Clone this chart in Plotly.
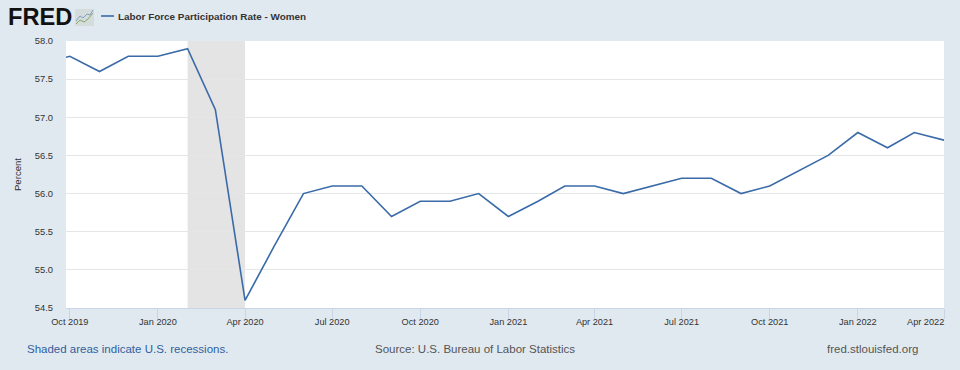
import plotly.graph_objects as go

months = ["2019-09-01","2019-10-01","2019-11-01","2019-12-01","2020-01-01","2020-02-01","2020-03-01","2020-04-01",
          "2020-05-01","2020-06-01","2020-07-01","2020-08-01","2020-09-01","2020-10-01","2020-11-01","2020-12-01",
          "2021-01-01","2021-02-01","2021-03-01","2021-04-01","2021-05-01","2021-06-01","2021-07-01","2021-08-01",
          "2021-09-01","2021-10-01","2021-11-01","2021-12-01","2022-01-01","2022-02-01","2022-03-01","2022-04-01"]
rate = [57.7,57.8,57.6,57.8,57.8,57.9,57.1,54.6,
        55.3,56.0,56.1,56.1,55.7,55.9,55.9,56.0,
        55.7,55.9,56.1,56.1,56.0,56.1,56.2,56.2,
        56.0,56.1,56.3,56.5,56.8,56.6,56.8,56.7]
tick_dates = ["2019-10-01","2020-01-01","2020-04-01","2020-07-01","2020-10-01","2021-01-01",
              "2021-04-01","2021-07-01","2021-10-01","2022-01-01","2022-04-01"]
tick_labels = ["Oct 2019","Jan 2020","Apr 2020","Jul 2020","Oct 2020","Jan 2021",
               "Apr 2021","Jul 2021","Oct 2021","Jan 2022",""]
last_label = "Apr 2022"
recession = ["2020-02-01","2020-04-01"]
y_ticks = [54.5,55.0,55.5,56.0,56.5,57.0,57.5,58.0]
x_range = ["2019-09-27","2022-04-01"]

W, H = 960, 370
L, R, T, B = 66, 944, 41, 308
BG = "#e1e9f0"
LINE = "#3a6ba8"
FONT = "Liberation Sans, Arial, sans-serif"

def px(x): return (x - L) / (R - L)
def py(y): return (B - y) / (B - T)

fig = go.Figure(go.Scatter(x=months, y=rate, mode="lines",
                           line=dict(color=LINE, width=1.6), showlegend=False, cliponaxis=True,
                           name="Labor Force Participation Rate - Women"))

shapes = [
    dict(type="rect", xref="x", yref="paper", x0=recession[0], x1=recession[1], y0=0, y1=1,
         fillcolor="#e4e4e4", line_width=0, layer="below"),
    # legend key
    dict(type="line", xref="paper", yref="paper", x0=px(101), x1=px(114), y0=py(16), y1=py(16),
         line=dict(color=LINE, width=1.6)),
    # logo icon
    dict(type="rect", xref="paper", yref="paper", x0=px(75), x1=px(94), y0=py(26), y1=py(9),
         fillcolor="#d5dcdc", line_width=0),
    dict(type="path", xref="paper", yref="paper",
         path=f"M {px(76)} {py(21)} L {px(80)} {py(16)} L {px(83)} {py(18)} L {px(87)} {py(14)} L {px(90)} {py(15)} L {px(93)} {py(10)}",
         line=dict(color="#7f9fc0", width=1)),
    dict(type="path", xref="paper", yref="paper",
         path=f"M {px(76)} {py(24)} L {px(80)} {py(20)} L {px(84)} {py(22)} L {px(88)} {py(19)} L {px(93)} {py(13)}",
         line=dict(color="#8aa868", width=1)),
]

def note(text, x, y, size, color, anchor="left", **kw):
    return dict(text=text, xref="paper", yref="paper", x=px(x), y=py(y), xanchor=anchor, yanchor="middle",
                xshift=0, showarrow=False, borderpad=0, borderwidth=0,
                font=dict(size=size, color=color, family=FONT), **kw)

annotations = [
    note("<b>FRED</b>", 8, 17, 23.6, "#111111"),
    note("<b>Labor Force Participation Rate - Women</b>", 118, 16, 9.9, "#333333"),
    note("Shaded areas indicate U.S. recessions.", 27, 349, 11.5, "#2f5f9f"),
    note("Source: U.S. Bureau of Labor Statistics", 375, 349, 11.5, "#555555"),
    note("fred.stlouisfed.org", 827, 349, 11.5, "#555555"),
    note(last_label, 943.5, 322, 9.2, "#333333", anchor="right"),
]

fig.update_layout(
    width=W, height=H, autosize=False,
    margin=dict(l=L, r=W - R, t=T, b=H - B, pad=0),
    paper_bgcolor=BG, plot_bgcolor="#ffffff",
    font=dict(family=FONT, size=10, color="#333333"),
    shapes=shapes, annotations=annotations,
    xaxis=dict(type="date", range=x_range, tickmode="array", tickvals=tick_dates, ticktext=tick_labels,
               ticks="outside", ticklen=10, tickcolor="#c8d5e6", tickwidth=1, showgrid=False,
               showline=True, linecolor="#c8d5e6", linewidth=1, zeroline=False,
               tickfont=dict(size=9.2, color="#333333"), ticklabelstandoff=-5),
    yaxis=dict(range=[54.5, 58.0], tickmode="array", tickvals=y_ticks, ticktext=[f"{v:.1f}" for v in y_ticks],
               showgrid=True, gridcolor="#e6e6e6", gridwidth=1, zeroline=False, showline=False,
               ticks="", tickfont=dict(size=9.4, color="#333333"), ticklabelstandoff=12,
               title=dict(text="Percent", font=dict(size=9.6, color="#333333"), standoff=11)),
)

fig.write_html("out.html", config={"displayModeBar": False},
               post_script="document.body.style.margin='0';document.body.style.overflow='hidden';")
